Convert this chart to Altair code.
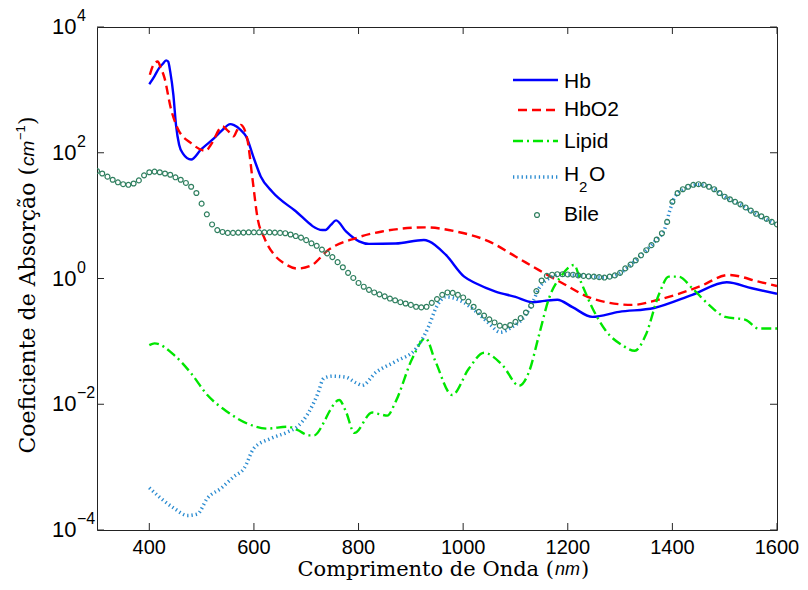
import altair as alt
import pandas as pd

# ---------------- data ----------------
hb_nm = [400, 410, 419, 426, 432, 436, 440, 446, 451, 457, 464, 480, 499, 524, 537, 555, 562, 575, 585,
         600, 613, 635, 677, 731, 737, 747, 757, 776, 801, 820, 871, 925, 935, 967, 1002, 1024, 1062,
         1100, 1132, 1155, 1180, 1209, 1247, 1298, 1365, 1438, 1504, 1552, 1600]
hb_val = [1230, 1660, 2240, 2600, 2950, 2820, 1950, 830, 277, 134, 98, 78, 113, 171, 218, 285, 275, 229, 182,
          81, 42, 24, 12.3, 5.9, 5.9, 7.1, 8.4, 5.6, 3.9, 3.55, 3.6, 4.1, 3.9, 2.37, 1.07, 0.84, 0.62,
          0.51, 0.42, 0.44, 0.46, 0.35, 0.245, 0.295, 0.34, 0.55, 0.87, 0.70, 0.57]

hbo2_nm = [401, 408, 416, 422, 429, 441, 454, 480, 508, 518, 540, 551, 561, 568, 575, 587, 597, 607, 620,
           639, 658, 683, 709, 741, 795, 845, 929, 986, 1049, 1100, 1145, 1190, 1247, 1323, 1374, 1451,
           1508, 1565, 1600]
hbo2_val = [1740, 2510, 2820, 2240, 1550, 515, 245, 142, 107, 135, 262, 220, 182, 230, 277, 170, 40, 9.1, 4.4,
            2.37, 1.74, 1.44, 1.6, 2.8, 4.4, 5.6, 6.5, 5.6, 3.9, 2.24, 1.36, 0.84, 0.48, 0.38, 0.46, 0.74,
            1.14, 0.89, 0.76]

lipid_nm = [400, 410, 448, 480, 511, 549, 588, 626, 664, 683, 706, 715, 734, 744, 763, 776, 792, 826, 836,
            855, 871, 903, 928, 947, 979, 1011, 1040, 1075, 1107, 1126, 1145, 1164, 1189, 1212, 1225, 1247,
            1272, 1304, 1328, 1349, 1374, 1393, 1412, 1438, 1470, 1501, 1540, 1565, 1600]
lipid_val = [0.087, 0.093, 0.06, 0.031, 0.014, 0.0076, 0.0049, 0.0041, 0.0044, 0.0039, 0.0032, 0.0032,
             0.0052, 0.0076, 0.0117, 0.0076, 0.0035, 0.0074, 0.0071, 0.0066, 0.011, 0.054, 0.112, 0.048,
             0.014, 0.037, 0.066, 0.042, 0.0197, 0.033, 0.126, 0.48, 1.14, 1.64, 0.89, 0.34, 0.15, 0.087,
             0.071, 0.126, 0.55, 1.07, 1.07, 0.70, 0.38, 0.245, 0.22, 0.16, 0.16]

h2o_nm = [400, 422, 448, 473, 492, 511, 537, 562, 581, 600, 632, 664, 683, 702, 721, 734, 750, 775, 795,
          807, 833, 871, 910, 935, 948, 967, 998, 1024, 1049, 1071, 1094, 1119, 1132, 1145, 1164, 1190,
          1230, 1270, 1300, 1330, 1350, 1370, 1385, 1395, 1405, 1425, 1450, 1475, 1500, 1530, 1565, 1600]
h2o_val = [4.7e-4, 3.2e-4, 2.2e-4, 1.7e-4, 1.8e-4, 3.2e-4, 4.6e-4, 7.1e-4, 9.5e-4, 2.0e-3, 2.85e-3, 3.6e-3,
           4.4e-3, 6.8e-3, 0.014, 0.026, 0.028, 0.027, 0.022, 0.020, 0.032, 0.048, 0.077, 0.18, 0.34, 0.51,
           0.43, 0.30, 0.195, 0.14, 0.17, 0.26, 0.40, 0.70, 1.0, 1.15, 1.10, 1.04, 1.22, 1.95, 2.8, 4.2,
           6.0, 12, 20, 27, 31, 28, 20, 15, 10, 7.2]

bile_nm = list(range(300, 1601, 10))
bile_val = [51.3, 46.8, 41.7, 37.2, 33.9, 31.6, 30.9, 32.4, 36.3, 43.7,
            49.0, 50.1, 49.0, 46.8, 44.7, 40.7, 37.2, 33.1, 28.8, 22.9,
            15.5, 10.5, 7.24, 5.89, 5.5, 5.31, 5.31, 5.37, 5.37, 5.43,
            5.43, 5.43, 5.43, 5.43, 5.37, 5.31, 5.25, 5.01, 4.73, 4.47,
            4.07, 3.63, 3.31, 2.88, 2.51, 2.19, 1.82, 1.51, 1.23, 1.02,
            0.85, 0.74, 0.66, 0.60, 0.56, 0.52, 0.48, 0.45, 0.42, 0.40,
            0.38, 0.355, 0.347, 0.355, 0.41, 0.47, 0.55, 0.60, 0.59, 0.55,
            0.50, 0.43, 0.355, 0.295, 0.257, 0.224, 0.20, 0.178, 0.17, 0.182,
            0.204, 0.234, 0.288, 0.37, 0.63, 0.93, 1.10, 1.15, 1.17, 1.17,
            1.16, 1.15, 1.12, 1.10, 1.08, 1.07, 1.05, 1.035, 1.07, 1.12,
            1.23, 1.45, 1.66, 1.95, 2.34, 2.82, 3.39, 4.17, 5.25, 7.94,
            16.6, 22.9, 26.3, 28.8, 30.9, 31.6, 30.9, 28.8, 26.3, 22.9,
            20.0, 18.2, 16.6, 15.1, 13.5, 12.0, 10.7, 9.77, 8.91, 7.94,
            7.24]

x_ticks = [400, 600, 800, 1000, 1200, 1400, 1600]
y_ticks = [1e-4, 1e-2, 1, 1e2, 1e4]
y_exps = ["\u22124", "\u22122", "0", "2", "4"]

series_names = ["Hb", "HbO2", "Lipid", "H2O", "Bile"]

# ---------------- styling ----------------
W, H = 680, 503
C_HB, C_HBO2, C_LIP, C_H2O, C_BILE = "#0000ff", "#ff0000", "#00e600", "#2a8bd0", "#2f7f5f"
D_HBO2, D_LIP, D_H2O = [9, 5], [10, 4, 2, 4], [1.3, 3]
SANS = "Liberation Sans"
SERIF = "DejaVu Serif"

xs = alt.Scale(domain=[300, 1600], nice=False, zero=False)
ys = alt.Scale(type="log", domain=[1e-4, 1e4], nice=False)


def series_line(nm, val, color, dash=None, width=2.4):
    df = pd.DataFrame({"nm": nm, "v": val})
    kw = dict(color=color, strokeWidth=width, interpolate="monotone", clip=True)
    if dash:
        kw["strokeDash"] = dash
    return alt.Chart(df).mark_line(**kw).encode(
        x=alt.X("nm:Q", scale=xs, axis=None),
        y=alt.Y("v:Q", scale=ys, axis=None),
    )


hb = series_line(hb_nm, hb_val, C_HB)
hbo2 = series_line(hbo2_nm, hbo2_val, C_HBO2, D_HBO2)
lipid = series_line(lipid_nm, lipid_val, C_LIP, D_LIP)
h2o = series_line(h2o_nm, h2o_val, C_H2O, D_H2O, width=3.5)
bile = alt.Chart(pd.DataFrame({"nm": bile_nm, "v": bile_val})).mark_point(
    shape="circle", filled=False, size=24, strokeWidth=1.2, color=C_BILE, opacity=1, clip=True
).encode(x=alt.X("nm:Q", scale=xs, axis=None), y=alt.Y("v:Q", scale=ys, axis=None))

# ---------------- ticks (inward, MATLAB style) ----------------
xt = pd.DataFrame({"t": x_ticks})
yt = pd.DataFrame({"t": y_ticks, "e": y_exps})
tick_c = "#262626"
x_top = alt.Chart(xt).mark_rule(color=tick_c, strokeWidth=1).encode(
    x=alt.X("t:Q", scale=xs, axis=None), y=alt.value(0), y2=alt.value(7))
x_bot = alt.Chart(xt).mark_rule(color=tick_c, strokeWidth=1).encode(
    x=alt.X("t:Q", scale=xs, axis=None), y=alt.value(H - 7), y2=alt.value(H))
y_left = alt.Chart(yt).mark_rule(color=tick_c, strokeWidth=1).encode(
    y=alt.Y("t:Q", scale=ys, axis=None), x=alt.value(0), x2=alt.value(7))
y_right = alt.Chart(yt).mark_rule(color=tick_c, strokeWidth=1).encode(
    y=alt.Y("t:Q", scale=ys, axis=None), x=alt.value(W - 7), x2=alt.value(W))

x_lab = alt.Chart(xt).mark_text(font=SANS, fontSize=20, color="black", align="center",
                                baseline="middle").encode(
    x=alt.X("t:Q", scale=xs, axis=None), y=alt.value(H + 18), text=alt.Text("t:Q", format="d"))
y_lab10 = alt.Chart(yt).mark_text(font=SANS, fontSize=22, color="black", align="left",
                                  baseline="middle", text="10").encode(
    y=alt.Y("t:Q", scale=ys, axis=None), x=alt.value(-45))
y_labexp = alt.Chart(yt).mark_text(font=SANS, fontSize=16, color="black", align="left",
                                   baseline="middle", dy=-11).encode(
    y=alt.Y("t:Q", scale=ys, axis=None), x=alt.value(-20), text="e:N")

# ---------------- axis titles ----------------
def txt(s, x, y, font, size, align="left", angle=0, style="normal"):
    return alt.Chart(pd.DataFrame({"a": [0]})).mark_text(
        text=s, font=font, fontSize=size, align=align, baseline="middle", angle=angle,
        fontStyle=style, color="black").encode(x=alt.value(x), y=alt.value(y))

TY = H + 40
xt1 = txt("Comprimento de Onda (", 457, TY, SERIF, 21, align="right")
xt2 = txt("nm", 458, TY, SANS, 18, style="italic")
xt3 = txt(")", 484, TY, SERIF, 21)

yt1 = txt("Coeficiente de Absor\u00e7\u00e3o (", -69, 140, SERIF, 22, align="right", angle=270)
yt2 = txt("cm", -69, 139, SANS, 19, angle=270, style="italic")
yt3 = txt("\u22121", -76, 113, SANS, 13, angle=270)
yt4 = txt(")", -69, 98, SERIF, 22, angle=270)

# ---------------- legend (inside plot, no box) ----------------
def leg_rule(y, color, dash=None, width=2.4, x0=416, x1=461):
    kw = dict(color=color, strokeWidth=width)
    if dash:
        kw["strokeDash"] = dash
    return alt.Chart(pd.DataFrame({"a": [0]})).mark_rule(**kw).encode(
        x=alt.value(x0), x2=alt.value(x1), y=alt.value(y))

LX = 467
leg = [
    leg_rule(53, C_HB), txt(series_names[0], LX, 55, SANS, 21),
    leg_rule(83, C_HBO2, D_HBO2, x0=421), txt(series_names[1], LX, 83, SANS, 21),
    leg_rule(114, C_LIP, D_LIP), txt(series_names[2], LX, 115, SANS, 21),
    leg_rule(150, C_H2O, D_H2O, width=3.5),
    txt("H", LX, 148, SANS, 21), txt("2", LX + 15, 160, SANS, 15), txt("O", LX + 25, 148, SANS, 21),
    alt.Chart(pd.DataFrame({"a": [0]})).mark_point(shape="circle", filled=False, size=24, strokeWidth=1.2,
                                                   color=C_BILE, opacity=1).encode(
        x=alt.value(440), y=alt.value(188)),
    txt(series_names[4], LX, 188, SANS, 21),
]

chart = alt.layer(
    hb, hbo2, lipid, h2o, bile,
    x_top, x_bot, y_left, y_right,
    x_lab, y_lab10, y_labexp,
    xt1, xt2, xt3, yt1, yt2, yt3, yt4,
    *leg,
).properties(
    width=W, height=H,
    autosize=alt.AutoSizeParams(type="none"),
    padding={"left": 89, "top": 19, "right": 23, "bottom": 52},
    background="white",
).configure_view(stroke="#222222", strokeWidth=1)

chart.save("out.html", embed_options={"renderer": "svg", "actions": False})
